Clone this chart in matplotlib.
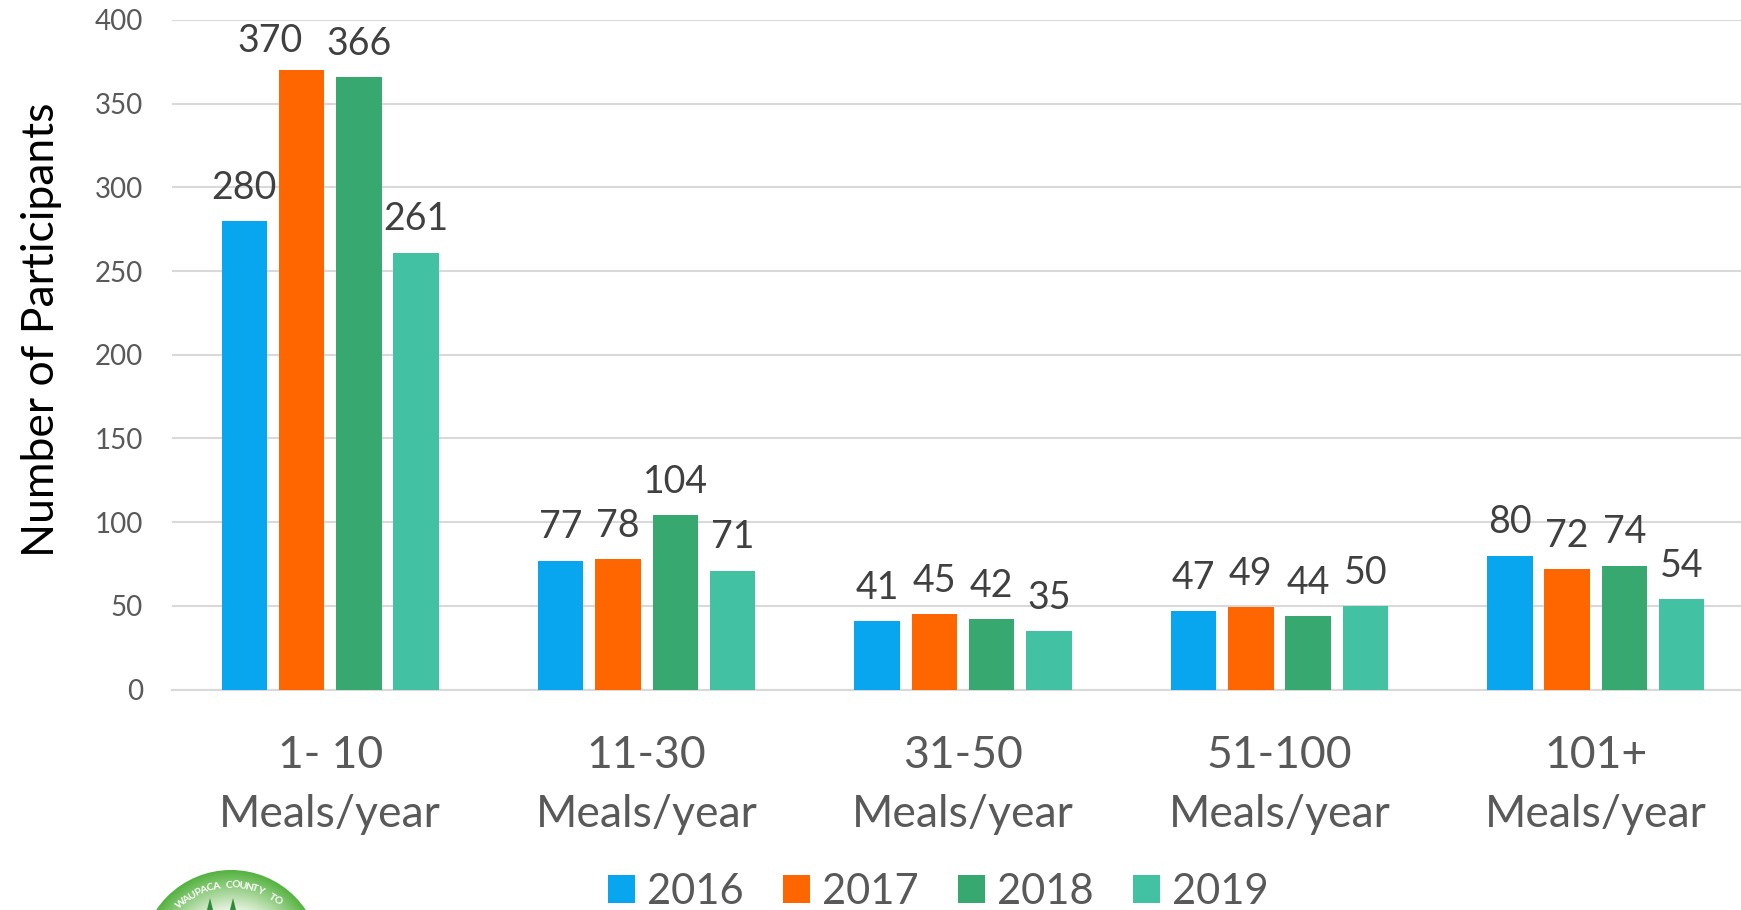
import numpy as np
import matplotlib
matplotlib.use("Agg")
import matplotlib.pyplot as plt
from matplotlib.patches import Circle, Polygon

plt.rcParams['font.family'] = ['Lato', 'DejaVu Sans']

categories = ["1- 10\nMeals/year", "11-30\nMeals/year", "31-50\nMeals/year", "51-100\nMeals/year", "101+\nMeals/year"]
years = ["2016", "2017", "2018", "2019"]
v2016 = [280, 77, 41, 47, 80]
v2017 = [370, 78, 45, 49, 72]
v2018 = [366, 104, 42, 44, 74]
v2019 = [261, 71, 35, 50, 54]
colors = ["#09A6F0", "#FF6600", "#37A86F", "#43C1A3"]
y_ticks = [0, 50, 100, 150, 200, 250, 300, 350, 400]

W, H = 1741, 910
fig = plt.figure(figsize=(W / 100, H / 100), dpi=100)

# plot area in pixels of the reference
left, top, bottom = 172, 20, 689.5
ax = fig.add_axes([left / W, 1 - bottom / H, 1 - left / W, (bottom - top) / H])

step = 316.4
x = np.arange(len(categories))
width = 45.5 / step
gap = 57.3 / step

series = [v2016, v2017, v2018, v2019]
for i, vals in enumerate(series):
    xs = x + (i - 1.5) * gap
    ax.bar(xs, vals, width, color=colors[i], label=years[i], zorder=3)
    for j, (a, b) in enumerate(zip(xs, vals)):
        # the 370 label was moved left by hand in the original
        off = (-23, 8) if (i == 1 and j == 0) else (0, 11)
        ax.annotate(str(b), (a, b), xytext=off, textcoords="offset points",
                    ha="center", va="bottom", fontsize=27, color="#404040",
                    annotation_clip=False, zorder=4)

ax.set_xlim(-0.5, (W - left) / step - 0.5)
ax.set_ylim(0, 400)
ax.set_xticks(x)
ax.set_xticklabels(categories, fontsize=32, color="#595959", linespacing=1.53)
ax.set_yticks(y_ticks)
ax.tick_params(axis="y", labelsize=20, labelcolor="#595959", length=0, pad=21)
ax.tick_params(axis="x", length=0, pad=33)
ax.grid(axis="y", color="#D9D9D9", linewidth=1.5, zorder=0)
ax.set_axisbelow(True)
for s in ax.spines.values():
    s.set_visible(False)
ax.spines["bottom"].set_visible(True)
ax.spines["bottom"].set_color("#D9D9D9")
ax.spines["bottom"].set_linewidth(1.5)
ax.set_ylabel("Number of Participants", fontsize=32, color="#000000", va="center")
ax.yaxis.set_label_coords(-(left - 42) / (W - left), 0.538)

ax.legend(loc="center", bbox_to_anchor=(938 / W, 1 - 892 / H), bbox_transform=fig.transFigure,
          ncol=4, frameon=False, fontsize=30, labelcolor="#595959",
          handlelength=0.65, handleheight=0.65, handletextpad=0.29, columnspacing=0.94,
          borderpad=0, borderaxespad=0)

# logo cut off by the lower edge, drawn in pixel coordinates
lg = fig.add_axes([0, 0, 1, 1], zorder=5)
lg.set_xlim(0, W)
lg.set_ylim(H, 0)
lg.axis("off")
cx, cy, r = 231, 960, 90
gy, gx = np.mgrid[860:911, 130:330]
d = np.hypot(gx - cx, gy - cy) / r
rgb0 = np.array([0.93, 0.96, 0.90])
rgb1 = np.array([0.33, 0.70, 0.25])
t = np.clip((d - 0.55) / 0.45, 0, 1)[..., None]
img = lg.imshow(rgb0 * (1 - t) + rgb1 * t, extent=(130, 330, 911, 860), aspect="auto", zorder=1)
clip = Circle((cx, cy), r, transform=lg.transData, fc="none", ec="none")
lg.add_patch(clip)
img.set_clip_path(clip)
lg.set_xlim(0, W)
lg.set_ylim(H, 0)
for tx, ty in [(210, 918), (233, 918)]:
    lg.add_patch(Polygon([(tx, ty - 20), (tx - 8, ty + 12), (tx + 8, ty + 12)], fc="#2E8B3A", ec="none", zorder=2))
word = "WAUPACA COUNTY TO"
angles = np.linspace(-41, 38, len(word))
for ch, ang in zip(word, angles):
    a = np.radians(ang)
    lg.text(cx + 75 * np.sin(a), cy - 75 * np.cos(a), ch, fontsize=7.5, fontweight="bold", color="white",
            rotation=-ang, ha="center", va="center", zorder=3, clip_on=True)

fig.savefig("out.png", dpi=100)
